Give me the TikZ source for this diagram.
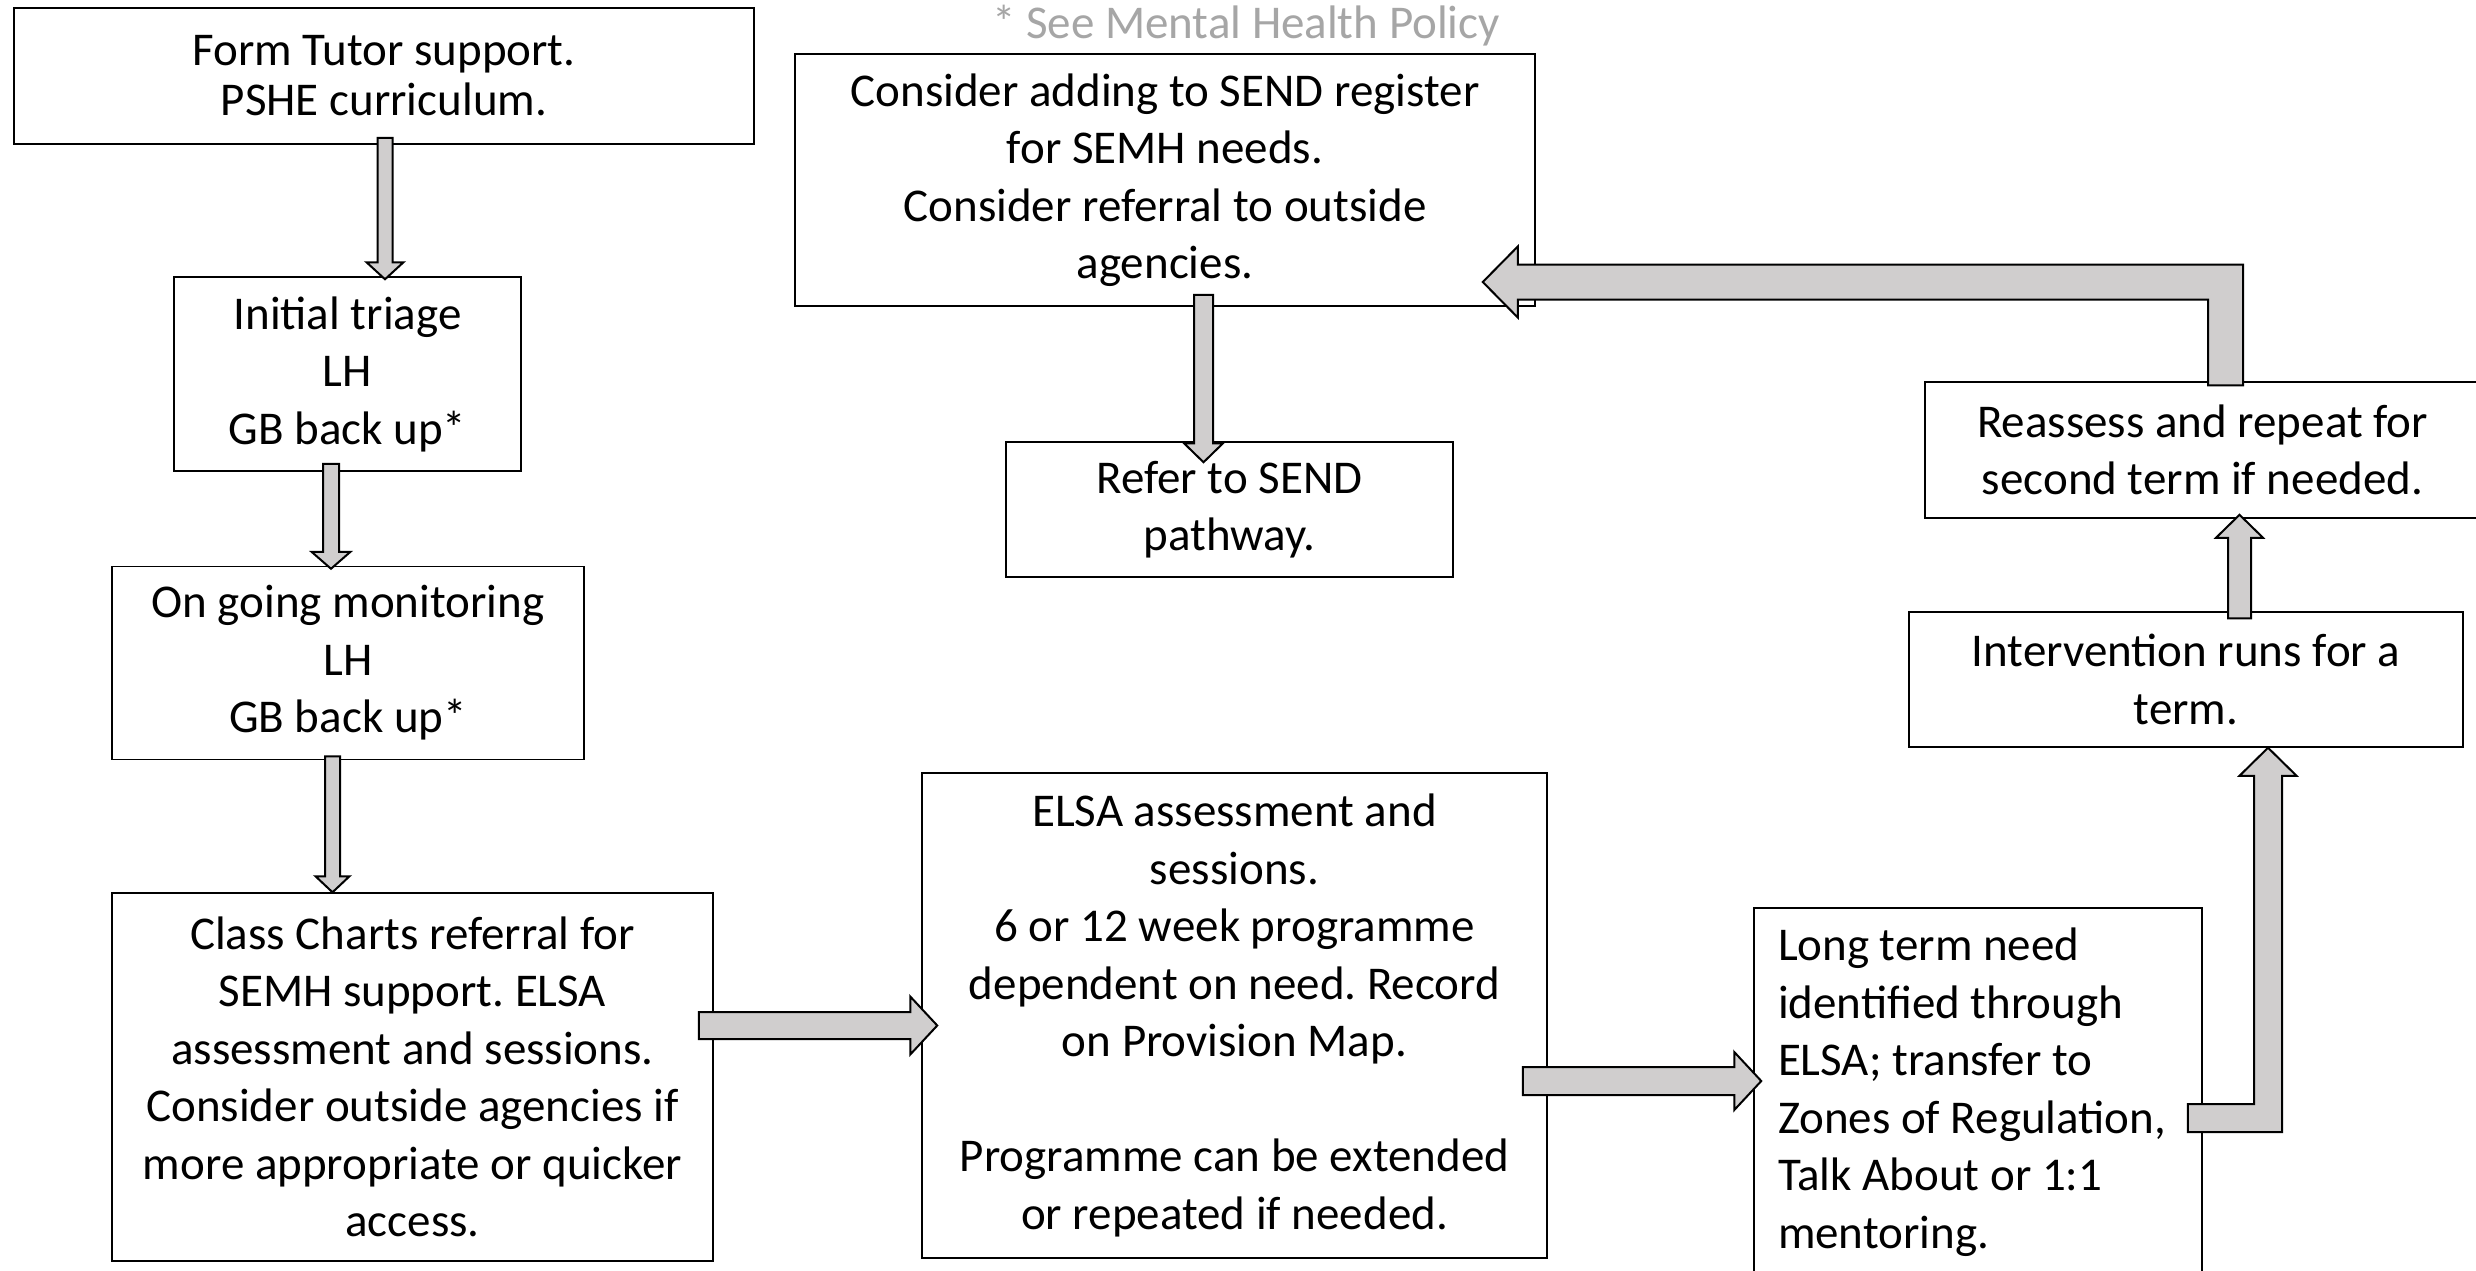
\documentclass[tikz,border=0pt]{standalone}
\usepackage{fontspec}
\setmainfont{Carlito}
\usetikzlibrary{calc}
\frenchspacing
\definecolor{arrgray}{RGB}{208,206,206}
\definecolor{notegray}{RGB}{166,166,166}
\newcommand\boxfont{\fontsize{23.5pt}{28.75pt}\selectfont}
\newcommand\formfont{\fontsize{23.5pt}{25pt}\selectfont}
% block arrows: #1 start, #2 end (tip), #3 shaft half width, #4 head half width, #5 head length
\newcommand\BDown[5]{\draw[blockarr] let \p1=#1, \p2=#2 in
  (\x1-#3,\y1) -- (\x1-#3,\y2+#5) -- (\x1-#4,\y2+#5) -- (\x1,\y2) -- (\x1+#4,\y2+#5) -- (\x1+#3,\y2+#5) -- (\x1+#3,\y1) -- cycle;}
\newcommand\BUp[5]{\draw[blockarr] let \p1=#1, \p2=#2 in
  (\x1-#3,\y1) -- (\x1-#3,\y2-#5) -- (\x1-#4,\y2-#5) -- (\x1,\y2) -- (\x1+#4,\y2-#5) -- (\x1+#3,\y2-#5) -- (\x1+#3,\y1) -- cycle;}
\newcommand\BRight[5]{\draw[blockarr] let \p1=#1, \p2=#2 in
  (\x1,\y1-#3) -- (\x2-#5,\y1-#3) -- (\x2-#5,\y1-#4) -- (\x2,\y1) -- (\x2-#5,\y1+#4) -- (\x2-#5,\y1+#3) -- (\x1,\y1+#3) -- cycle;}
\newcommand\BRightUp[5]{\draw[blockarr] let \p1=#1, \p2=#2 in
  (\x1,\y1-#3) -- (\x2+#3,\y1-#3) -- (\x2+#3,\y2-#5) -- (\x2+#4,\y2-#5) -- (\x2,\y2) -- (\x2-#4,\y2-#5) -- (\x2-#3,\y2-#5) -- (\x2-#3,\y1+#3) -- (\x1,\y1+#3) -- cycle;}
\newcommand\BUpLeft[5]{\draw[blockarr] let \p1=#1, \p2=#2 in
  (\x1+#3,\y1) -- (\x1+#3,\y2+#3) -- (\x2+#5,\y2+#3) -- (\x2+#5,\y2+#4) -- (\x2,\y2) -- (\x2+#5,\y2-#4) -- (\x2+#5,\y2-#3) -- (\x1-#3,\y2-#3) -- (\x1-#3,\y1) -- cycle;}
\begin{document}
\begin{tikzpicture}[x=0.5pt,y=-0.5pt,
  boxnode/.style={draw, line width=0.75pt, fill=white, inner sep=0pt, align=center, font=\boxfont},
  blockarr/.style={draw, line width=1pt, fill=arrgray, line join=miter}]
\useasboundingbox (0,0) rectangle (2476,1270);
\clip (0,0) rectangle (2476,1270);
\fill[white] (0,0) rectangle (2476,1270);

\node[boxnode, font=\formfont, minimum width=370pt, minimum height=68pt] (form) at (384,76)
  {Form Tutor support.\\PSHE curriculum.};
\node[boxnode, minimum width=173.5pt, minimum height=97pt] (triage) at (347.5,374)
  {Initial triage\\LH\\GB back up*};
\node[boxnode, minimum width=236pt, minimum height=96.5pt] (ongoing) at (348,663)
  {On going monitoring\\LH\\GB back up*};
\node[boxnode, minimum width=300.5pt, minimum height=184pt] (class) at (412.5,1077)
  {Class Charts referral for\\SEMH support. ELSA\\assessment and sessions.\\Consider outside agencies if\\more appropriate or quicker\\access.};
\node[boxnode, minimum width=312.5pt, minimum height=242.5pt] (elsa) at (1234.5,1015.5)
  {ELSA assessment and\\sessions.\\6 or 12 week programme\\dependent on need. Record\\on Provision Map.\\~\\Programme can be extended\\or repeated if needed.};
\node[boxnode, align=flush left, text width=200pt, inner xsep=12pt, minimum height=184pt] (long) at (1978,1092)
  {Long term need\\identified through\\ELSA; transfer to\\Zones of Regulation,\\Talk About or 1:1\\mentoring.};
\node[boxnode, minimum width=277pt, minimum height=67.5pt] (interv) at (2186,679.5)
  {Intervention runs for a\\term.};
\node[boxnode, minimum width=277.5pt, minimum height=68pt] (reassess) at (2202.5,450)
  {Reassess and repeat for\\second term if needed.};
\node[boxnode, minimum width=370pt, minimum height=126pt] (consider) at (1165,180)
  {Consider adding to SEND register\\for SEMH needs.\\Consider referral to outside\\agencies.};
\node[boxnode, minimum width=223.5pt, minimum height=67.5pt] (refer) at (1229.5,509.5)
  {Refer to SEND\\pathway.};
\node[anchor=base, font=\boxfont, text=notegray, inner sep=0pt] (note) at (1246,38)
  {* See Mental Health Policy};

\BDown{($(form.south)+(1,-7)$)}{($(triage.north)+(0,3)$)}{3.75pt}{9.25pt}{8.5pt}
\BDown{($(triage.south)+(-16.5,-8)$)}{($(ongoing.north)+(0,3)$)}{4pt}{9.75pt}{8.5pt}
\BDown{($(ongoing.south)+(-15.5,-4)$)}{(class.north)}{3.75pt}{8.5pt}{8pt}
\BRight{($(class.east)+(-15,-51.5)$)}{($(elsa.west)+(16,0)$)}{6.75pt}{14.5pt}{13.5pt}
\BRight{($(elsa.east)+(-25,65.5)$)}{($(long.west)+(8,0)$)}{7pt}{14.5pt}{13.5pt}
\BDown{($(consider.south)+(38.5,-12)$)}{($(refer.north)+(0,21)$)}{4.75pt}{9.75pt}{9.5pt}
\BUp{($(interv.north)+(53.5,7)$)}{($(reassess.south)+(0,-4)$)}{5.75pt}{11.75pt}{11.5pt}
\BRightUp{($(long.east)+(-15,26)$)}{($(interv.south)+(82,0)$)}{7pt}{14.25pt}{14pt}
\BUpLeft{($(reassess.north)+(23,4)$)}{($(consider.east)+(-53,102)$)}{8.75pt}{17.75pt}{17.5pt}
\end{tikzpicture}
\end{document}
